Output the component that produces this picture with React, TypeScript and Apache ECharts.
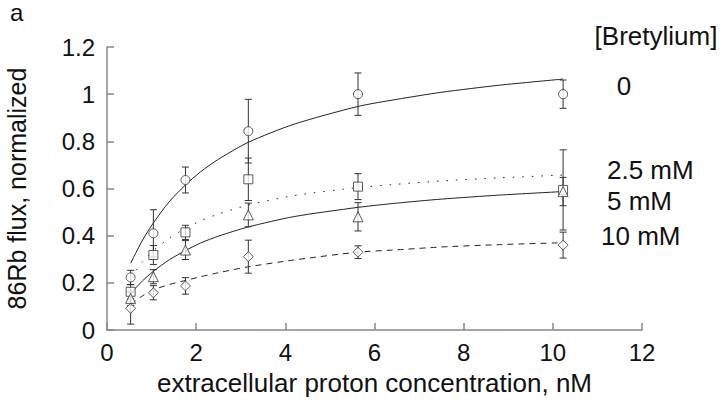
import React, { useEffect, useRef } from "react";
import * as echarts from "echarts";

// Measured data points (proton concentration, nM)
const xVals = [0.53, 1.04, 1.76, 3.17, 5.63, 10.23];

// Bretylium 0
const flux0 = [0.223, 0.41, 0.636, 0.843, 1.0, 1.0];
const err0 = [0.03, 0.1, 0.055, 0.135, 0.09, 0.06];
// Bretylium 2.5 mM
const flux25 = [0.162, 0.318, 0.414, 0.639, 0.608, 0.594];
const err25 = [0.03, 0.04, 0.03, 0.09, 0.055, 0.17];
// Bretylium 5 mM
const flux5 = [0.134, 0.226, 0.339, 0.488, 0.48, 0.587];
const err5 = [0.03, 0.03, 0.04, 0.05, 0.06, 0.06];
// Bretylium 10 mM
const flux10 = [0.092, 0.158, 0.187, 0.311, 0.33, 0.36];
const err10 = [0.067, 0.03, 0.035, 0.07, 0.027, 0.055];

// Fitted curves
const fitX = [0.53, 0.8, 1.04, 1.4, 1.76, 2.1, 2.5, 3.17, 4.2, 5.63, 6.5, 7.5, 8.8, 10.23];
const fit0 = [0.283, 0.382, 0.454, 0.545, 0.615, 0.671, 0.724, 0.796, 0.873, 0.948, 0.978, 1.008, 1.038, 1.064];
const fit25 = [0.22, 0.29, 0.336, 0.39, 0.431, 0.463, 0.492, 0.53, 0.57, 0.604, 0.618, 0.632, 0.645, 0.657];
const fit5 = [0.155, 0.209, 0.249, 0.298, 0.337, 0.369, 0.398, 0.437, 0.481, 0.52, 0.538, 0.555, 0.572, 0.587];
const fit10 = [0.11, 0.145, 0.17, 0.193, 0.21, 0.226, 0.243, 0.268, 0.297, 0.33, 0.34, 0.352, 0.362, 0.37];

const xTicks = [0, 2, 4, 6, 8, 10, 12];
const yTicks = [0, 0.2, 0.4, 0.6, 0.8, 1, 1.2];

const groupLabels = ["0", "2.5 mM", "5 mM", "10 mM"];
const legendTitle = "[Bretylium]";
const panelLabel = "a";
const xName = "extracellular proton concentration, nM";
const yName = "86Rb flux, normalized";

const FONT = "'Liberation Sans', Arial, Helvetica, sans-serif";
const INK = "#222";

function errData(ys: number[], es: number[]) {
  return xVals.map((x, i) => [x, ys[i], es[i]]);
}
function pts(xs: number[], ys: number[]) {
  return xs.map((x, i) => [x, ys[i]]);
}

export default function App() {
  const ref = useRef<HTMLDivElement>(null);
  useEffect(() => {
    if (!ref.current) return;
    const chart = echarts.init(ref.current, null, { renderer: "svg" });

    const errorSeries = (ys: number[], es: number[]) => ({
      type: "custom",
      z: 2,
      encode: { x: 0, y: 1 },
      data: errData(ys, es),
      renderItem: (params: any, api: any) => {
        const x = api.value(0);
        const y = api.value(1);
        const e = api.value(2);
        const t = api.coord([x, y + e]);
        const b = api.coord([x, y - e]);
        const cap = 3.5;
        const st = { stroke: "#333", lineWidth: 1 };
        return {
          type: "group",
          children: [
            { type: "line", shape: { x1: t[0], y1: t[1], x2: b[0], y2: b[1] }, style: st },
            { type: "line", shape: { x1: t[0] - cap, y1: t[1], x2: t[0] + cap, y2: t[1] }, style: st },
            { type: "line", shape: { x1: b[0] - cap, y1: b[1], x2: b[0] + cap, y2: b[1] }, style: st },
          ],
        };
      },
    });

    const fitSeries = (ys: number[], lineType: any) => ({
      type: "line",
      data: pts(fitX, ys),
      smooth: 0.25,
      showSymbol: false,
      symbol: "none",
      z: 1,
      lineStyle: { color: INK, width: 1, type: lineType },
    });

    const scatterSeries = (ys: number[], symbol: string, size: number) => ({
      type: "scatter",
      data: pts(xVals, ys),
      symbol,
      symbolSize: size,
      z: 3,
      itemStyle: { color: "#fff", borderColor: "#333", borderWidth: 1 },
    });

    const textStyle = (t: string) => ({ text: t, fill: "#111", font: `26px ${FONT}` });

    chart.setOption({
      animation: false,
      backgroundColor: "#fff",
      textStyle: { fontFamily: FONT },
      grid: { left: 107, right: 78, top: 47, bottom: 71, containLabel: false, outerBoundsMode: "none" },
      xAxis: {
        type: "value",
        min: 0,
        max: 12,
        interval: 2,
        name: xName,
        nameLocation: "middle",
        nameGap: 40,
        nameTextStyle: { fontSize: 26, color: "#111", fontFamily: FONT },
        axisLine: { show: true, lineStyle: { color: "#888", width: 1.5 } },
        axisTick: { show: true, inside: true, length: 7, lineStyle: { color: "#888", width: 1.5 } },
        axisLabel: {
          fontSize: 24,
          color: "#111",
          margin: 10,
          fontFamily: FONT,
          formatter: (v: number) => (xTicks.includes(v) ? String(v) : ""),
        },
        splitLine: { show: false },
      },
      yAxis: {
        type: "value",
        min: 0,
        max: 1.2,
        interval: 0.2,
        name: yName,
        nameLocation: "middle",
        nameGap: 78,
        nameTextStyle: { fontSize: 25, color: "#111", fontFamily: FONT },
        axisLine: { show: true, lineStyle: { color: "#888", width: 1.5 } },
        axisTick: { show: true, inside: true, length: 7, lineStyle: { color: "#888", width: 1.5 } },
        axisLabel: {
          fontSize: 24,
          color: "#111",
          margin: 12,
          fontFamily: FONT,
          formatter: (v: number) => {
            const r = Math.round(v * 10) / 10;
            return yTicks.includes(r) ? String(r) : "";
          },
        },
        splitLine: { show: false },
      },
      graphic: [
        { type: "text", x: 10, y: 12, style: { text: panelLabel, fill: "#111", font: `24px ${FONT}`, verticalAlign: "middle" } },
        { type: "text", x: 656, y: 36, style: { ...textStyle(legendTitle), align: "center", verticalAlign: "middle" } },
        { type: "text", x: 624, y: 86, style: { ...textStyle(groupLabels[0]), align: "center", verticalAlign: "middle" } },
        { type: "text", x: 607, y: 170, style: { ...textStyle(groupLabels[1]), align: "left", verticalAlign: "middle" } },
        { type: "text", x: 607, y: 201, style: { ...textStyle(groupLabels[2]), align: "left", verticalAlign: "middle" } },
        { type: "text", x: 601, y: 236, style: { ...textStyle(groupLabels[3]), align: "left", verticalAlign: "middle" } },
      ],
      series: [
        fitSeries(fit0, "solid"),
        fitSeries(fit25, [1.5, 8]),
        fitSeries(fit5, "solid"),
        fitSeries(fit10, [6, 5]),
        errorSeries(flux0, err0),
        errorSeries(flux25, err25),
        errorSeries(flux5, err5),
        errorSeries(flux10, err10),
        scatterSeries(flux0, "circle", 9),
        scatterSeries(flux25, "rect", 9),
        scatterSeries(flux5, "triangle", 10),
        scatterSeries(flux10, "diamond", 10),
      ],
    });
    return () => chart.dispose();
  }, []);
  return (
    <div
      ref={ref}
      style={{ position: "fixed", left: 0, top: 0, width: 720, height: 401, background: "#fff" }}
    />
  );
}
